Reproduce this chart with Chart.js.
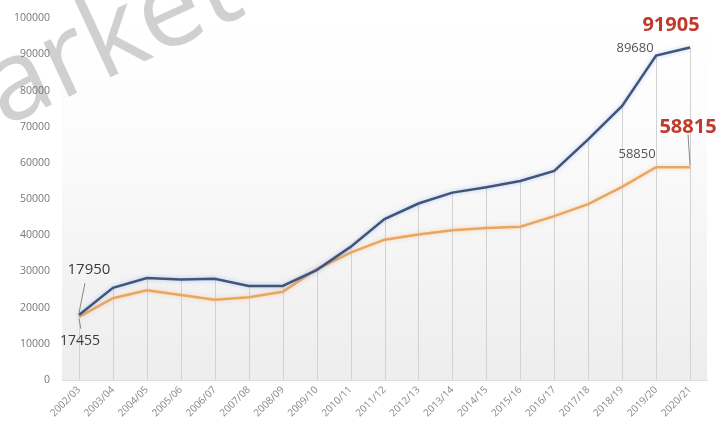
<!DOCTYPE html>
<html>
<head>
<meta charset="utf-8">
<script src="https://cdn.jsdelivr.net/npm/chart.js@4.4.0/dist/chart.umd.min.js"></script>
<style>
html,body{margin:0;padding:0;background:#fff;}
#wrap{width:719px;height:433px;position:relative;overflow:hidden;}
</style>
</head>
<body>
<div id="wrap"><canvas id="c" width="719" height="433"></canvas></div>
<script>
const categories = ['2002/03','2003/04','2004/05','2005/06','2006/07','2007/08','2008/09','2009/10','2010/11','2011/12','2012/13','2013/14','2014/15','2015/16','2016/17','2017/18','2018/19','2019/20','2020/21'];
const blueValues = [17950, 25500, 28200, 27800, 28000, 26000, 26000, 30400, 36800, 44500, 48800, 51800, 53300, 55000, 57800, 66500, 75800, 89680, 91905];
const orangeValues = [17455, 22600, 24800, 23500, 22200, 22900, 24400, 30600, 35200, 38800, 40200, 41400, 42000, 42400, 45300, 48600, 53400, 58850, 58815];
const yMin = 0, yMax = 100000, yStep = 10000;

// value labels: [datasetIndex, pointIndex, text]
const valueLabels = [
  [0, 0, '17950'],
  [1, 0, '17455'],
  [0, 17, '89680'],
  [0, 18, '91905'],
  [1, 17, '58850'],
  [1, 18, '58815']
];
const labelStyles = [
  {dx: 10, dy: -45, font: '500 15px "Open Sans"', color: '#3a3a3a', callout: [[6, -32], [0, -2]]},
  {dx: 1, dy: 24, font: '500 14px "Open Sans"', color: '#3a3a3a', callout: [[0, 2], [2, 12]]},
  {dx: -21, dy: -7, font: '13px "Open Sans"', color: '#555555'},
  {dx: -19, dy: -22, font: 'bold 20px "Open Sans"', color: '#c0392b'},
  {dx: -19, dy: -13, font: '13px "Open Sans"', color: '#555555'},
  {dx: -2, dy: -40, font: 'bold 20px "Open Sans"', color: '#c0392b', callout: [[-2, -33], [0, -2]]}
];

const bgPlugin = {
  id: 'bg',
  beforeDraw(chart) {
    const {ctx, chartArea: a} = chart;
    ctx.save();
    const g = ctx.createLinearGradient(0, a.top, 0, a.bottom);
    g.addColorStop(0, 'rgba(255,255,255,1)');
    g.addColorStop(0.3, 'rgba(252,252,252,1)');
    g.addColorStop(1, 'rgba(237,237,237,1)');
    ctx.fillStyle = g;
    ctx.fillRect(a.left, a.top, a.right - a.left, a.bottom - a.top);
    // watermark
    ctx.translate(-24, 140);
    ctx.rotate(-25 * Math.PI / 180);
    ctx.font = '112px "Open Sans"';
    ctx.fillStyle = 'rgba(200,200,200,0.85)';
    ctx.textBaseline = 'alphabetic';
    ctx.fillText('Market', -70, 0);
    ctx.restore();
  },
  beforeDatasetsDraw(chart) {
    const {ctx, chartArea: a} = chart;
    const meta = chart.getDatasetMeta(0);
    ctx.save();
    ctx.strokeStyle = '#d2d2d2';
    ctx.lineWidth = 1;
    meta.data.forEach(p => {
      ctx.beginPath();
      ctx.moveTo(Math.round(p.x) + 0.5, p.y);
      ctx.lineTo(Math.round(p.x) + 0.5, a.bottom);
      ctx.stroke();
    });
    ctx.restore();
  },
  beforeDatasetDraw(chart, args) {
    const ctx = chart.ctx;
    ctx.save();
    ctx.shadowColor = args.index === 0 ? 'rgba(120,160,230,0.55)' : 'rgba(240,180,120,0.55)';
    ctx.shadowBlur = 4;
  },
  afterDatasetDraw(chart) {
    chart.ctx.restore();
  },
  afterDraw(chart) {
    const ctx = chart.ctx;
    ctx.save();
    valueLabels.forEach((l, i) => {
      const p = chart.getDatasetMeta(l[0]).data[l[1]];
      const s = labelStyles[i];
      if (s.callout) {
        ctx.strokeStyle = '#888';
        ctx.lineWidth = 1;
        ctx.beginPath();
        ctx.moveTo(p.x + s.callout[0][0], p.y + s.callout[0][1]);
        ctx.lineTo(p.x + s.callout[1][0], p.y + s.callout[1][1]);
        ctx.stroke();
      }
      ctx.font = s.font;
      ctx.fillStyle = s.color;
      ctx.textAlign = 'center';
      ctx.textBaseline = 'middle';
      ctx.fillText(l[2], p.x + s.dx, p.y + s.dy);
    });
    ctx.restore();
  }
};

new Chart(document.getElementById('c'), {
  type: 'line',
  data: {
    labels: categories,
    datasets: [
      {data: blueValues, borderColor: '#41557a', borderWidth: 2.5, pointRadius: 0, fill: false, tension: 0},
      {data: orangeValues, borderColor: '#e9a661', borderWidth: 2.5, pointRadius: 0, fill: false, tension: 0}
    ]
  },
  plugins: [bgPlugin],
  options: {
    responsive: false,
    animation: false,
    layout: {padding: {top: 8, right: 12, left: 0, bottom: 0}},
    plugins: {legend: {display: false}, tooltip: {enabled: false}},
    scales: {
      x: {
        offset: true,
        grid: {display: false, drawTicks: false},
        border: {display: true, color: '#dcdcdc'},
        ticks: {font: {family: 'Open Sans', size: 10}, color: '#888', minRotation: 45, maxRotation: 45, padding: 4, autoSkip: false},
        afterFit(s) { s.height = 53; }
      },
      y: {
        min: yMin, max: yMax,
        grid: {display: false, drawTicks: false},
        border: {display: false},
        ticks: {stepSize: yStep, font: {family: 'Open Sans', size: 10.5}, color: '#777', padding: 12, callback: v => String(v)},
        afterFit(s) { s.width = 62; }
      }
    }
  }
});
</script>
</body>
</html>
